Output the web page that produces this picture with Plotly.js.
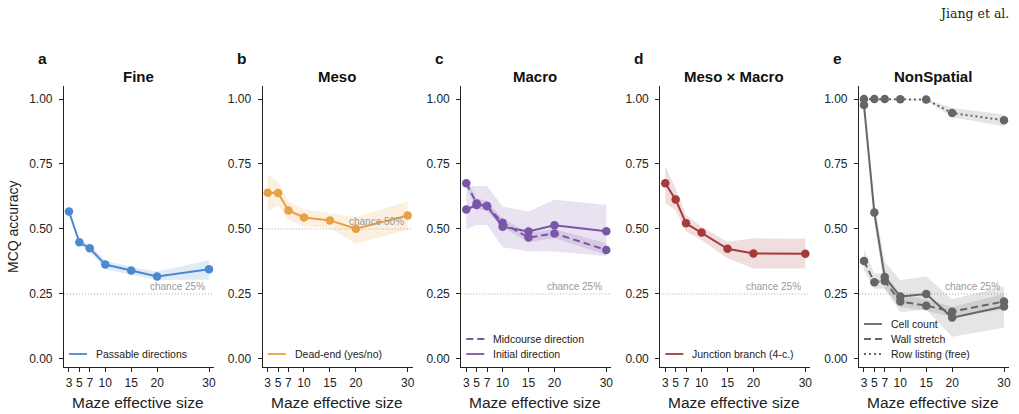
<!DOCTYPE html>
<html>
<head>
<meta charset="utf-8">
<script src="https://cdn.plot.ly/plotly-3.0.1.min.js"></script>
<style>html,body{margin:0;padding:0;background:#fff;}#chart{width:1019px;height:414px;}</style>
</head>
<body>
<div id="chart"></div>
<script>
// ---------- data ----------
const sizes = [3, 5, 7, 10, 15, 20, 30];
const sizeTicks = [3, 5, 7, 10, 15, 20, 30];
const yTicks = [0, 0.25, 0.5, 0.75, 1.0];
const yTickText = ['0.00', '0.25', '0.50', '0.75', '1.00'];

// a: Fine
const passableAcc = [0.567, 0.449, 0.426, 0.363, 0.340, 0.317, 0.345];
const passableLo  = [0.560, 0.440, 0.413, 0.345, 0.325, 0.304, 0.305];
const passableHi  = [0.574, 0.457, 0.439, 0.380, 0.353, 0.336, 0.380];
// b: Meso
const deadEndAcc = [0.639, 0.638, 0.571, 0.544, 0.533, 0.501, 0.552];
const deadEndLo  = [0.567, 0.590, 0.535, 0.510, 0.505, 0.443, 0.497];
const deadEndHi  = [0.710, 0.683, 0.606, 0.576, 0.560, 0.545, 0.606];
// c: Macro
const midcourseAcc = [0.676, 0.598, 0.588, 0.524, 0.467, 0.483, 0.419];
const midcourseLo  = [0.660, 0.578, 0.568, 0.505, 0.450, 0.465, 0.400];
const midcourseHi  = [0.692, 0.618, 0.608, 0.540, 0.485, 0.500, 0.445];
const initialAcc = [0.575, 0.592, 0.588, 0.509, 0.490, 0.514, 0.491];
const initialLo  = [0.499, 0.515, 0.515, 0.430, 0.413, 0.413, 0.396];
const initialHi  = [0.665, 0.665, 0.665, 0.586, 0.567, 0.612, 0.593];
// d: Meso x Macro
const junctionAcc = [0.676, 0.613, 0.522, 0.486, 0.424, 0.406, 0.405];
const junctionLo  = [0.599, 0.573, 0.490, 0.458, 0.387, 0.348, 0.348];
const junctionHi  = [0.742, 0.656, 0.554, 0.509, 0.451, 0.464, 0.462];
// e: NonSpatial
const cellAcc = [0.977, 0.563, 0.315, 0.240, 0.250, 0.159, 0.202];
const cellLo  = [0.960, 0.520, 0.270, 0.180, 0.190, 0.085, 0.120];
const cellHi  = [0.990, 0.600, 0.373, 0.304, 0.317, 0.230, 0.280];
const wallAcc = [0.377, 0.295, 0.300, 0.221, 0.205, 0.182, 0.221];
const wallLo  = [0.340, 0.270, 0.270, 0.200, 0.185, 0.160, 0.190];
const wallHi  = [0.420, 0.330, 0.330, 0.250, 0.230, 0.200, 0.250];
const rowAcc = [1.000, 1.000, 1.000, 0.999, 0.998, 0.946, 0.918];
const rowLo  = [0.997, 0.997, 0.997, 0.996, 0.994, 0.930, 0.895];
const rowHi  = [1.000, 1.000, 1.000, 1.000, 1.000, 0.965, 0.940];

const panelLetters = ['a', 'b', 'c', 'd', 'e'];
const panelTitles = ['Fine', 'Meso', 'Macro', 'Meso × Macro', 'NonSpatial'];
const chanceLevels = [0.25, 0.5, 0.25, 0.25, 0.25];
const chanceLabels = ['chance 25%', 'chance 50%', 'chance 25%', 'chance 25%', 'chance 25%'];

// ---------- styling ----------
const BLUE = '#4a89cf', ORANGE = '#e8a042', PURPLE = '#7b55a8', RED = '#a63a3a', GREY = '#666666';
const FONT = 'Liberation Sans, Arial, sans-serif';
const W = 1019, H = 414;
const leftPx = [64, 262.7, 461.3, 660.3, 859];
const panelW = 150;
const yDom = [1 - 367 / H, 1 - 86 / H];

function rgba(hex, a) {
  const n = parseInt(hex.slice(1), 16);
  return `rgba(${(n >> 16) & 255},${(n >> 8) & 255},${n & 255},${a})`;
}

const panels = [
  [{name: 'Passable directions', y: passableAcc, lo: passableLo, hi: passableHi, color: BLUE, dash: 'solid'}],
  [{name: 'Dead-end (yes/no)', y: deadEndAcc, lo: deadEndLo, hi: deadEndHi, color: ORANGE, dash: 'solid'}],
  [{name: 'Midcourse direction', y: midcourseAcc, lo: midcourseLo, hi: midcourseHi, color: PURPLE, dash: '7px,4px'},
   {name: 'Initial direction', y: initialAcc, lo: initialLo, hi: initialHi, color: PURPLE, dash: 'solid'}],
  [{name: 'Junction branch (4-c.)', y: junctionAcc, lo: junctionLo, hi: junctionHi, color: RED, dash: 'solid'}],
  [{name: 'Cell count', y: cellAcc, lo: cellLo, hi: cellHi, color: GREY, dash: 'solid'},
   {name: 'Wall stretch', y: wallAcc, lo: wallLo, hi: wallHi, color: GREY, dash: '7px,4px'},
   {name: 'Row listing (free)', y: rowAcc, lo: rowLo, hi: rowHi, color: GREY, dash: '2px,3px'}]
];

const traces = [];
const shapes = [];
const annotations = [];
const layout = {
  width: W, height: H,
  margin: {l: 0, r: 0, t: 0, b: 0},
  paper_bgcolor: '#fff', plot_bgcolor: '#fff',
  showlegend: false,
  font: {family: FONT, color: '#222'}
};

panels.forEach((series, i) => {
  const k = i === 0 ? '' : String(i + 1);
  const xa = 'x' + k, ya = 'y' + k;
  const x0 = leftPx[i] / W, x1 = (leftPx[i] + panelW) / W;
  layout['xaxis' + k] = {
    domain: [x0, x1], anchor: ya, range: [2.04, 30.96],
    tickvals: sizeTicks, ticktext: sizeTicks.map(String),
    showline: true, linecolor: '#222', linewidth: 1.1,
    ticks: 'outside', ticklen: 4, tickwidth: 1, tickcolor: '#222',
    showgrid: false, zeroline: false,
    tickfont: {size: 12, family: FONT, color: '#222'}, fixedrange: true
  };
  layout['yaxis' + k] = {
    domain: yDom, anchor: xa, range: [-0.031, 1.05],
    tickvals: yTicks, ticktext: yTickText,
    showline: true, linecolor: '#222', linewidth: 1.1,
    ticks: 'outside', ticklen: 4, tickwidth: 1, tickcolor: '#222',
    ticklabelstandoff: 4,
    showgrid: false, zeroline: false,
    tickfont: {size: 12, family: FONT, color: '#222'}, fixedrange: true
  };
  // chance line
  shapes.push({type: 'line', xref: xa + ' domain', yref: ya, x0: 0, x1: 1,
    y0: chanceLevels[i], y1: chanceLevels[i], line: {color: '#aaaaaa', width: 1, dash: '1px,2px'}, layer: 'below'});
  annotations.push({xref: xa, yref: ya, x: 29.6, y: chanceLevels[i], xanchor: 'right', yanchor: 'bottom',
    yshift: 0, text: chanceLabels[i], showarrow: false, font: {size: 10, color: '#999999', family: FONT}});
  // bands
  series.forEach(s => {
    traces.push({
      x: sizes.concat(sizes.slice().reverse()),
      y: s.hi.concat(s.lo.slice().reverse()),
      xaxis: xa, yaxis: ya, type: 'scatter', mode: 'lines', fill: 'toself',
      fillcolor: rgba(s.color, 0.17), line: {width: 0, color: 'rgba(0,0,0,0)'}, hoverinfo: 'skip'
    });
  });
  series.forEach(s => {
    traces.push({
      x: sizes, y: s.y, xaxis: xa, yaxis: ya, type: 'scatter', mode: 'lines+markers', name: s.name,
      line: {color: s.color, width: 2, dash: s.dash}, marker: {color: s.color, size: 8.5}
    });
  });
  // legend (drawn manually, bottom-left)
  const n = series.length;
  series.forEach((s, j) => {
    const py = 354 - (n - 1 - j) * 15;
    const lx0 = (leftPx[i] + 5) / W, lx1 = (leftPx[i] + 23) / W;
    shapes.push({type: 'line', xref: 'paper', yref: 'paper', x0: lx0, x1: lx1, y0: 1 - py / H, y1: 1 - py / H,
      line: {color: s.color, width: 1.8, dash: s.dash}});
    annotations.push({xref: 'paper', yref: 'paper', x: (leftPx[i] + 30) / W, y: 1 - py / H,
      xanchor: 'left', yanchor: 'middle', text: s.name, showarrow: false,
      font: {size: 10.5, family: FONT, color: '#222'}});
  });
  // title
  annotations.push({xref: 'paper', yref: 'paper', x: (leftPx[i] + panelW / 2 - 1) / W, y: 1 - 77 / H,
    xanchor: 'center', yanchor: 'middle', text: '<b>' + panelTitles[i] + '</b>', showarrow: false,
    font: {size: 15, family: FONT, color: '#111'}});
  // panel letter
  annotations.push({xref: 'paper', yref: 'paper', x: (leftPx[i] - 28) / W, y: 1 - 59 / H,
    xanchor: 'left', yanchor: 'middle', text: '<b>' + panelLetters[i] + '</b>', showarrow: false,
    font: {size: 15.5, family: FONT, color: '#111'}});
  // x-axis title
  annotations.push({xref: 'paper', yref: 'paper', x: (leftPx[i] + panelW / 2 - 1) / W, y: 1 - 402 / H,
    xanchor: 'center', yanchor: 'middle', text: 'Maze effective size', showarrow: false,
    font: {size: 15.5, family: FONT, color: '#222'}});
});

// y-axis title
annotations.push({xref: 'paper', yref: 'paper', x: 13 / W, y: 1 - 227 / H, xanchor: 'center', yanchor: 'middle',
  text: 'MCQ accuracy', textangle: -90, showarrow: false, font: {size: 14, family: FONT, color: '#222'}});
// running header
annotations.push({xref: 'paper', yref: 'paper', x: 1011 / W, y: 1 - 13 / H, xanchor: 'right', yanchor: 'middle',
  text: 'Jiang et al.', showarrow: false, font: {size: 12.5, family: 'DejaVu Serif, serif', color: '#222'}});

layout.shapes = shapes;
layout.annotations = annotations;

Plotly.newPlot('chart', traces, layout, {staticPlot: true, displayModeBar: false});
</script>
</body>
</html>
